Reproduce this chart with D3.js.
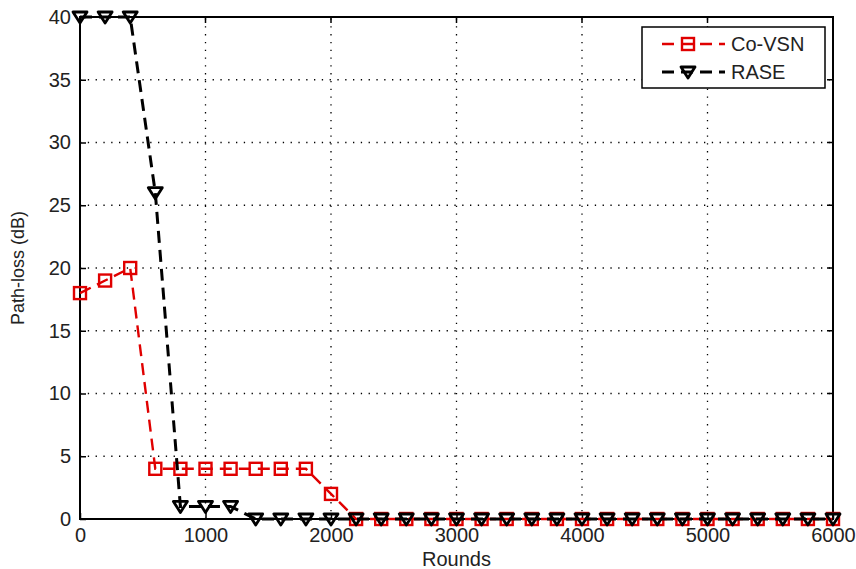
<!DOCTYPE html>
<html lang="en">
<head>
<meta charset="utf-8">
<script src="https://cdn.jsdelivr.net/npm/d3@7"></script>
<style>
  body { margin: 0; background: #fff; }
  text { font-family: "Liberation Sans", Arial, sans-serif; }
</style>
</head>
<body>
<script>
// rounds, every 200 from 0 to 6000
var rounds = [0, 200, 400, 600, 800, 1000, 1200, 1400, 1600, 1800, 2000,
  2200, 2400, 2600, 2800, 3000, 3200, 3400, 3600, 3800, 4000,
  4200, 4400, 4600, 4800, 5000, 5200, 5400, 5600, 5800, 6000];
var covsn = [18, 19, 20, 4, 4, 4, 4, 4, 4, 4, 2,
  0, 0, 0, 0, 0, 0, 0, 0, 0, 0, 0, 0, 0, 0, 0, 0, 0, 0, 0, 0];
var rase = [40, 40, 40, 26, 1, 1, 1, 0, 0, 0, 0,
  0, 0, 0, 0, 0, 0, 0, 0, 0, 0, 0, 0, 0, 0, 0, 0, 0, 0, 0, 0];
var xTicks = [0, 1000, 2000, 3000, 4000, 5000, 6000];
var yTicks = [0, 5, 10, 15, 20, 25, 30, 35, 40];

var w = 856, h = 569;
var margin = { top: 17, left: 80, right: 23, bottom: 50 };

var svg = d3.select("body").append("svg")
  .attr("width", w)
  .attr("height", h);

var x = d3.scaleLinear().domain([0, 6000]).range([margin.left, w - margin.right]);
var y = d3.scaleLinear().domain([0, 40]).range([h - margin.bottom, margin.top]);

// dotted grid
svg.append("g").selectAll("line").data(xTicks.slice(1, -1)).enter().append("line")
  .attr("x1", d => x(d)).attr("x2", d => x(d))
  .attr("y1", y(0)).attr("y2", y(40))
  .attr("stroke", "#000").attr("stroke-width", 1.3)
  .attr("stroke-dasharray", "1.3,6.5");
svg.append("g").selectAll("line").data(yTicks.slice(1, -1)).enter().append("line")
  .attr("y1", d => y(d)).attr("y2", d => y(d))
  .attr("x1", x(0)).attr("x2", x(6000))
  .attr("stroke", "#000").attr("stroke-width", 1.3)
  .attr("stroke-dasharray", "1.3,6.5");

// axes, ticks pointing inward
var xAxis = d3.axisBottom(x).tickValues(xTicks).tickFormat(d3.format("d"))
  .tickSizeInner(-6).tickSizeOuter(0).tickPadding(9);
var yAxis = d3.axisLeft(y).tickValues(yTicks).tickFormat(d3.format("d"))
  .tickSizeInner(-6).tickSizeOuter(0).tickPadding(9);
var gx = svg.append("g").attr("transform", "translate(0," + y(0) + ")").call(xAxis);
var gy = svg.append("g").attr("transform", "translate(" + x(0) + ",0)").call(yAxis);
[gx, gy].forEach(function(g) {
  g.selectAll("text").style("font-size", "20px").attr("fill", "#222");
  g.selectAll("line").attr("stroke", "#000").attr("stroke-width", 1.5);
  g.select(".domain").remove();
});
// top and right ticks
svg.append("g").selectAll("line").data(xTicks).enter().append("line")
  .attr("x1", d => x(d)).attr("x2", d => x(d))
  .attr("y1", y(40)).attr("y2", y(40) + 6)
  .attr("stroke", "#000").attr("stroke-width", 1.5);
svg.append("g").selectAll("line").data(yTicks).enter().append("line")
  .attr("y1", d => y(d)).attr("y2", d => y(d))
  .attr("x1", x(6000)).attr("x2", x(6000) - 6)
  .attr("stroke", "#000").attr("stroke-width", 1.5);

// box
svg.append("rect")
  .attr("x", x(0)).attr("y", y(40))
  .attr("width", x(6000) - x(0)).attr("height", y(0) - y(40))
  .attr("fill", "none").attr("stroke", "#000").attr("stroke-width", 2);

// axis titles
svg.append("text")
  .attr("x", (x(0) + x(6000)) / 2).attr("y", h - 3)
  .attr("text-anchor", "middle").style("font-size", "20px").attr("fill", "#222")
  .text("Rounds");
svg.append("text")
  .attr("transform", "translate(24," + (y(20)) + ") rotate(-90)")
  .attr("text-anchor", "middle").style("font-size", "18px").attr("fill", "#222")
  .text("Path-loss (dB)");

var line = d3.line().x(d => x(d[0])).y(d => y(d[1]));

function squares(g, pts, color) {
  g.selectAll("rect.m").data(pts).enter().append("rect")
    .attr("class", "m")
    .attr("x", d => x(d[0]) - 6).attr("y", d => y(d[1]) - 6)
    .attr("width", 12).attr("height", 12)
    .attr("fill", "none").attr("stroke", color).attr("stroke-width", 2.4);
}
function triangles(g, pts, color) {
  g.selectAll("path.m").data(pts).enter().append("path")
    .attr("class", "m")
    .attr("d", d => "M" + (x(d[0]) - 7) + "," + (y(d[1]) - 5) + "h14l-7,11z")
    .attr("fill", "none").attr("stroke", color).attr("stroke-width", 2.8)
    .attr("stroke-linejoin", "round");
}

var red = "#e00000";
var covsnPts = rounds.map((r, i) => [r, covsn[i]]);
var rasePts = rounds.map((r, i) => [r, rase[i]]);

var g1 = svg.append("g");
g1.append("path").datum(covsnPts).attr("d", line)
  .attr("fill", "none").attr("stroke", red).attr("stroke-width", 2.4)
  .attr("stroke-dasharray", "12,7");
squares(g1, covsnPts, red);

var g2 = svg.append("g");
g2.append("path").datum(rasePts).attr("d", line)
  .attr("fill", "none").attr("stroke", "#000").attr("stroke-width", 3)
  .attr("stroke-dasharray", "12,7");
triangles(g2, rasePts, "#000");

// legend
var lg = svg.append("g");
lg.append("rect").attr("x", 642).attr("y", 27).attr("width", 183).attr("height", 61)
  .attr("fill", "#fff").attr("stroke", "#000").attr("stroke-width", 1.5);
var items = [["Co-VSN", red, 44], ["RASE", "#000", 72]];
items.forEach(function(it, i) {
  lg.append("line").attr("x1", 662).attr("x2", 725).attr("y1", it[2]).attr("y2", it[2])
    .attr("stroke", it[1]).attr("stroke-width", i ? 3 : 2.4).attr("stroke-dasharray", "12,7");
  var p = [[x.invert(688), y.invert(it[2])]];
  if (i) triangles(lg.append("g"), p, it[1]); else squares(lg.append("g"), p, it[1]);
  lg.append("text").attr("x", 731).attr("y", it[2] + 7)
    .style("font-size", "20px").attr("fill", "#222").text(it[0]);
});
</script>
</body>
</html>
